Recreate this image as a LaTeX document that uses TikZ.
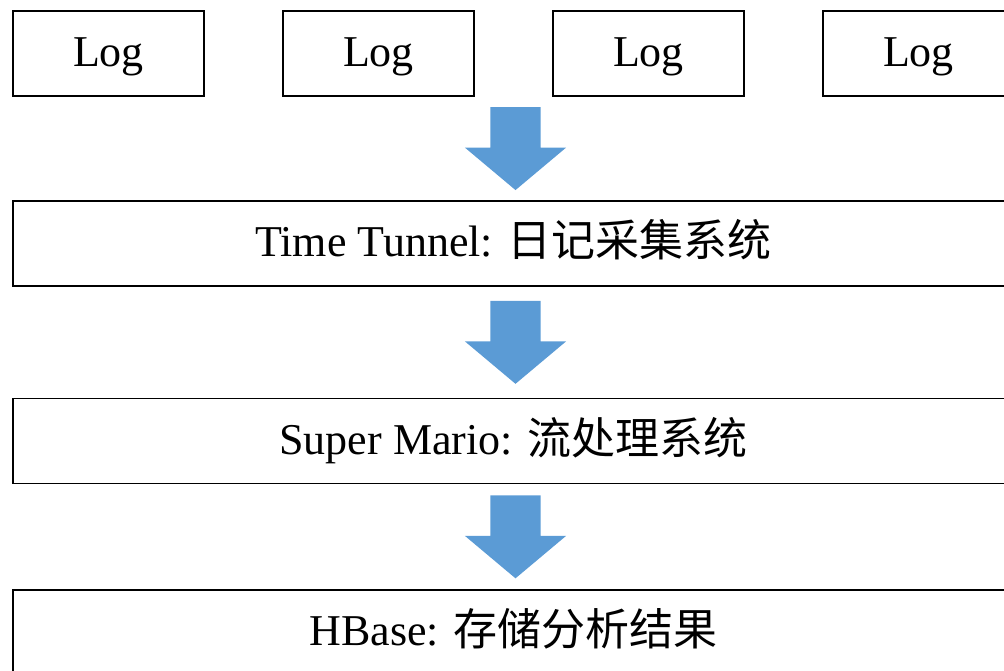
\documentclass[tikz,border=0pt]{standalone}
\usepackage{fontspec}
\setmainfont{Liberation Serif}
\newfontfamily\cjk{Noto Sans CJK SC}
\usetikzlibrary{shapes.arrows,calc}
\definecolor{arrowblue}{HTML}{5B9BD5}

\begin{document}
\begin{tikzpicture}[x=1pt,y=-1pt,
  logbox/.style={draw,line width=1.5pt,minimum width=191pt,minimum height=85pt,inner sep=0pt,
    text height=36pt,text depth=10pt,font=\fontsize{44}{50}\selectfont},
  stagebox/.style={logbox,minimum width=1001pt},
  flowarrow/.style={single arrow,fill=arrowblue,draw=none,rotate=-90,inner xsep=0pt,inner ysep=25pt,
    minimum height=83pt,single arrow head extend=25.5pt,
    single arrow tip angle=100,single arrow head indent=0pt}]
\useasboundingbox (0,0) rectangle (1004,671);
\clip (0,0) rectangle (1004,671);
\node[logbox] (log1) at (108.5,53.5) {Log};
\node[logbox] (log2) at (378.5,53.5) {Log};
\node[logbox] (log3) at (648.5,53.5) {Log};
\node[logbox] (log4) at (918.5,53.5) {Log};
\node[stagebox] (tunnel) at (513.5,243.5) {Time Tunnel: {\cjk 日记采集系统}};
\node[stagebox] (mario) at (513.5,441) {Super Mario: {\cjk 流处理系统}};
\node[stagebox] (hbase) at (513.5,632.5) {HBase: {\cjk 存储分析结果}};
% block arrows between the stages
\node[flowarrow] (arr1) at ($(tunnel.north)!0.5!(tunnel.north |- log1.south)+(2,-10.5)$) {};
\node[flowarrow] (arr2) at ($(tunnel.south)!0.5!(mario.north)+(2,-10.5)$) {};
\node[flowarrow] (arr3) at ($(mario.south)!0.5!(hbase.north)+(2,-10.5)$) {};
\end{tikzpicture}
\end{document}
